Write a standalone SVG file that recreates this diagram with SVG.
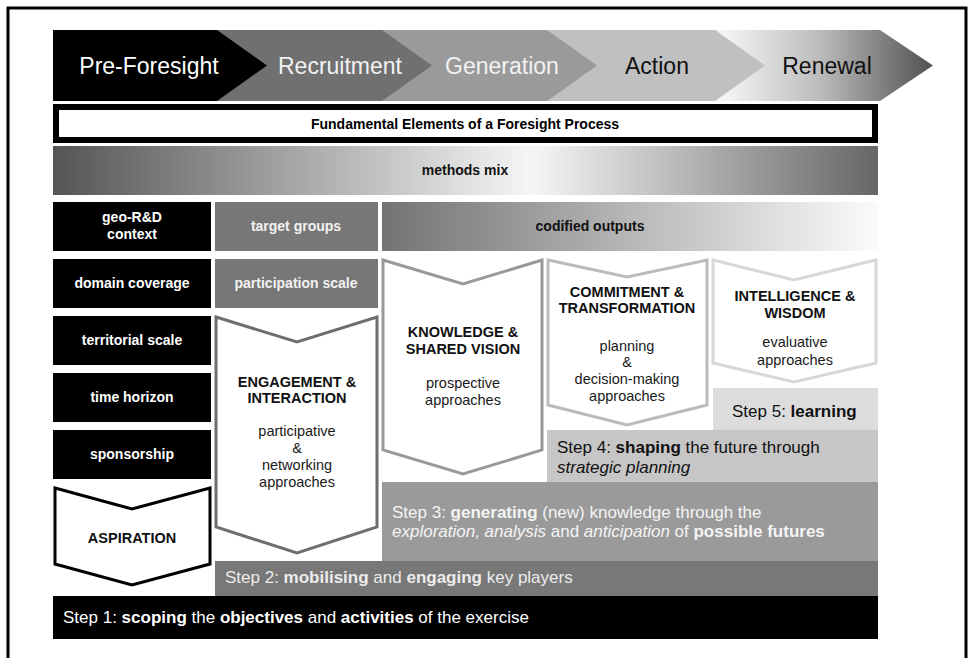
<svg xmlns="http://www.w3.org/2000/svg" width="970" height="658" viewBox="0 0 970 658">
<style>
text{font-family:"Liberation Sans",Arial,Helvetica,sans-serif;}
.phase{font-size:23px;text-anchor:middle;}
.lab{font-size:14px;font-weight:bold;text-anchor:middle;}
.sub{font-size:14.5px;text-anchor:middle;fill:#1a1a1a;}
.tt{font-size:14.5px;font-weight:bold;text-anchor:middle;fill:#111;}
.step{font-size:17px;}
.b{font-weight:bold;}
.i{font-style:italic;}
.w{fill:#fff;}
.chev{fill:#fff;stroke-width:3;stroke-linejoin:miter;}
</style>
<defs>
<linearGradient id="gRenew" gradientUnits="userSpaceOnUse" x1="725" y1="0" x2="933" y2="0">
<stop offset="0" stop-color="#f4f4f4"/>
<stop offset="0.45" stop-color="#bdbdbd"/>
<stop offset="1" stop-color="#505050"/>
</linearGradient>
<linearGradient id="gMethods" gradientUnits="userSpaceOnUse" x1="53" y1="0" x2="878" y2="0">
<stop offset="0" stop-color="#555"/>
<stop offset="0.58" stop-color="#f6f6f6"/>
<stop offset="1" stop-color="#666"/>
</linearGradient>
<linearGradient id="gCodified" gradientUnits="userSpaceOnUse" x1="382" y1="0" x2="878" y2="0">
<stop offset="0" stop-color="#737373"/>
<stop offset="1" stop-color="#fbfbfb"/>
</linearGradient>
</defs>
<rect x="0" y="0" width="970" height="658" fill="#fff"/>
<path d="M8,658 V8 H966 V658" fill="none" stroke="#000" stroke-width="3"/>

<g id="phases">
<g id="phase-renewal"><path d="M715,30 H880 L933,65.5 L880,101 H715 Z" fill="url(#gRenew)"/><text class="phase" x="827" y="74" fill="#111">Renewal</text></g>
<g id="phase-action"><path d="M547,30 H715 L765,65.5 L715,101 H547 Z" fill="#c0c0c0"/><text class="phase" x="657" y="74" fill="#111">Action</text></g>
<g id="phase-generation"><path d="M382,30 H547 L597,65.5 L547,101 H382 Z" fill="#9a9a9a"/><text class="phase" x="502" y="74" fill="#f2f2f2">Generation</text></g>
<g id="phase-recruitment"><path d="M217,30 H382 L432,65.5 L382,101 H217 Z" fill="#707070"/><text class="phase" x="340" y="74" fill="#f2f2f2">Recruitment</text></g>
<g id="phase-preforesight"><path d="M53,30 H217 L267,65.5 L217,101 H53 Z" fill="#000"/><text class="phase" x="149" y="74" fill="#fff">Pre-Foresight</text></g>
</g>

<g id="title"><rect x="56" y="107" width="819" height="33" fill="#fff" stroke="#000" stroke-width="6"/><text class="lab" x="465" y="129" fill="#000">Fundamental Elements of a Foresight Process</text></g>
<g id="methods-mix"><rect x="53" y="146" width="825" height="49" fill="url(#gMethods)"/><text class="lab" x="465" y="175" fill="#111">methods mix</text></g>

<g id="geo-rd-context"><rect x="53" y="202" width="158" height="49" fill="#000"/><text class="lab w" x="132" y="222">geo-R&amp;D</text><text class="lab w" x="132" y="239">context</text></g>
<g id="target-groups"><rect x="215" y="202" width="163" height="49" fill="#777"/><text class="lab" x="296" y="231" fill="#f2f2f2">target groups</text></g>
<g id="codified-outputs"><rect x="382" y="202" width="496" height="49" fill="url(#gCodified)"/><text class="lab" x="590" y="231" fill="#111">codified outputs</text></g>
<g id="domain-coverage"><rect x="53" y="259" width="158" height="49" fill="#000"/><text class="lab w" x="132" y="288">domain coverage</text></g>
<g id="participation-scale"><rect x="215" y="259" width="163" height="49" fill="#777"/><text class="lab" x="296" y="288" fill="#f2f2f2">participation scale</text></g>
<g id="territorial-scale"><rect x="53" y="316" width="158" height="49" fill="#000"/><text class="lab w" x="132" y="345">territorial scale</text></g>
<g id="time-horizon"><rect x="53" y="373" width="158" height="49" fill="#000"/><text class="lab w" x="132" y="402">time horizon</text></g>
<g id="sponsorship"><rect x="53" y="430" width="158" height="49" fill="#000"/><text class="lab w" x="132" y="459">sponsorship</text></g>

<g id="steps">
<g id="step5"><rect x="713" y="388" width="165" height="42" fill="#dcdcdc"/><text class="step" x="732" y="417" fill="#111">Step 5: <tspan class="b">learning</tspan></text></g>
<g id="step4"><rect x="547" y="430" width="331" height="52" fill="#c6c6c6"/><text class="step" x="557" y="453" fill="#111">Step 4: <tspan class="b">shaping</tspan> the future through</text><text class="step i" x="557" y="473" fill="#111">strategic planning</text></g>
<g id="step3"><rect x="382" y="482" width="496" height="79" fill="#9a9a9a"/><text class="step" x="392" y="518" fill="#f4f4f4">Step 3: <tspan class="b">generating</tspan> (new) knowledge through the</text><text class="step" x="392" y="537" fill="#f4f4f4"><tspan class="i">exploration, analysis</tspan> and <tspan class="i">anticipation</tspan> of <tspan class="b">possible futures</tspan></text></g>
<g id="step2"><rect x="215" y="561" width="663" height="35" fill="#787878"/><text class="step" x="225" y="583" fill="#ececec">Step 2: <tspan class="b">mobilising</tspan> and <tspan class="b">engaging</tspan> key players</text></g>
<g id="step1"><rect x="53" y="596" width="825" height="43" fill="#000"/><text class="step" x="63" y="623" fill="#fff">Step 1: <tspan class="b">scoping</tspan> the <tspan class="b">objectives</tspan> and <tspan class="b">activities</tspan> of the exercise</text></g>
</g>

<g id="aspiration"><path class="chev" d="M55,488 L132,509 L210,488 V564 L132,585 L55,564 Z" stroke="#000" stroke-width="3.5"/><text class="tt" x="132" y="543">ASPIRATION</text></g>

<g id="engagement-interaction"><path class="chev" d="M216,317 L297,342 L377,317 V527 L297,553 L216,527 Z" stroke="#6e6e6e"/>
<text class="tt" x="297" y="387">ENGAGEMENT &amp;</text><text class="tt" x="297" y="403">INTERACTION</text>
<text class="sub" x="297" y="436">participative</text><text class="sub" x="297" y="453">&amp;</text><text class="sub" x="297" y="470">networking</text><text class="sub" x="297" y="487">approaches</text></g>

<g id="knowledge-shared-vision"><path class="chev" d="M383,260 L463,284 L542,260 V450 L463,474 L383,450 Z" stroke="#999"/>
<text class="tt" x="463" y="337">KNOWLEDGE &amp;</text><text class="tt" x="463" y="354">SHARED VISION</text>
<text class="sub" x="463" y="388">prospective</text><text class="sub" x="463" y="405">approaches</text></g>

<g id="commitment-transformation"><path class="chev" d="M548,260 L627,277 L707,260 V405 L627,425 L548,405 Z" stroke="#bbb"/>
<text class="tt" x="627" y="297">COMMITMENT &amp;</text><text class="tt" x="627" y="313">TRANSFORMATION</text>
<text class="sub" x="627" y="351">planning</text><text class="sub" x="627" y="367">&amp;</text><text class="sub" x="627" y="384">decision-making</text><text class="sub" x="627" y="401">approaches</text></g>

<g id="intelligence-wisdom"><path class="chev" d="M713,260 L794,280 L876,260 V363 L794,382 L713,363 Z" stroke="#d8d8d8"/>
<text class="tt" x="795" y="301">INTELLIGENCE &amp;</text><text class="tt" x="795" y="318">WISDOM</text>
<text class="sub" x="795" y="347">evaluative</text><text class="sub" x="795" y="365">approaches</text></g>
</svg>
